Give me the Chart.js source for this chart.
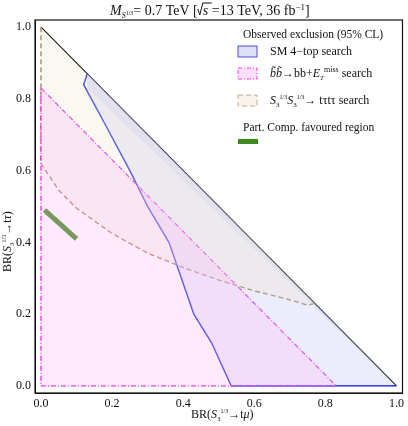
<!DOCTYPE html>
<html>
<head>
<meta charset="utf-8">
<script src="https://cdn.jsdelivr.net/npm/chart.js@4"></script>
<style>
  body { margin: 0; background: #fff; }
  #wrap { width: 408px; height: 426px; }
</style>
</head>
<body>
<div id="wrap"><canvas id="c"></canvas></div>
<script>
// boundaries (x = BR(S3 -> t mu), y = BR(S3 -> t tau))
const diagonal = [[0, 1], [1, 0]];
const fourTopEdge = [[0.13, 0.87], [0.12, 0.84], [0.18, 0.73], [0.25, 0.6], [0.3, 0.5],
  [0.36, 0.4], [0.43, 0.2], [0.48, 0.12], [0.535, 0], [1, 0]];
const fourTopTop = [[0.13, 0.87], [1, 0]];
const bbEdge = [[0, 0.83], [0.83, 0]];
const bbAxes = [[0.83, 0], [0, 0], [0, 0.83]];
const tautauEdge = [[0, 1], [0, 0.62], [0.05, 0.545], [0.1, 0.495], [0.2, 0.425], [0.3, 0.37],
  [0.4, 0.33], [0.5, 0.295], [0.6, 0.265], [0.7, 0.24], [0.75, 0.225], [0.77, 0.23]];
const tautauTop = [[0, 1], [0.77, 0.23]];
const favoured = [[0.01, 0.49], [0.1, 0.41]];
const tickVals = [0, 0.2, 0.4, 0.6, 0.8, 1.0];

const pts = a => a.map(p => ({ x: p[0], y: p[1] }));
const SERIF = '"Liberation Serif", "DejaVu Serif", serif';
const INK = '#111';

function rich(ctx, x, y, parts) {
  // parts: [text, size, dy, italic]
  parts.forEach(p => {
    ctx.font = (p[3] ? 'italic ' : '') + p[1] + 'px ' + SERIF;
    ctx.fillText(p[0], x, y + (p[2] || 0));
    x += ctx.measureText(p[0]).width;
  });
  return x;
}

const decor = {
  id: 'decor',
  afterDraw(chart) {
    const ctx = chart.ctx, a = chart.chartArea;
    ctx.save();
    ctx.fillStyle = INK;
    ctx.textBaseline = 'alphabetic';
    // title
    let x = rich(ctx, 110, 15, [['M', 14, 0, true], ['S', 8, 3, true], ['1/3', 6, 0], ['= 0.7 TeV [', 14, 0]]);
    ctx.strokeStyle = INK; ctx.lineWidth = 1;
    ctx.beginPath(); ctx.moveTo(x, 9); ctx.lineTo(x + 2, 15); ctx.lineTo(x + 5, 3); ctx.lineTo(x + 14, 3); ctx.stroke();
    rich(ctx, x + 5, 15, [['s', 14, 0, true], [' =13 TeV, 36 fb', 14, 0], ['−1', 9, -5], [']', 14, 0]]);
    // x title
    rich(ctx, 191, 418, [['BR(', 12], ['S', 12, 0, true], ['3', 7, 3], ['1/3', 6, -5], ['→t', 12], ['μ', 12, 0, true], [')', 12]]);
    // y title
    ctx.save(); ctx.translate(11, 272); ctx.rotate(-Math.PI / 2);
    rich(ctx, 0, 0, [['BR(', 12], ['S', 12, 0, true], ['3', 7, 3], ['1/3', 6, -5], ['→t', 12], ['τ', 12, 0, true], [')', 12]]);
    ctx.restore();
    // legend
    rich(ctx, 243, 38, [['Observed exclusion (95% CL)', 11.5]]);
    const box = (y, fill, stroke, dash) => {
      ctx.fillStyle = fill; ctx.fillRect(238, y, 19, 11);
      ctx.strokeStyle = stroke; ctx.setLineDash(dash); ctx.lineWidth = 1;
      ctx.strokeRect(238, y, 19, 11); ctx.setLineDash([]); ctx.fillStyle = INK;
    };
    box(46, 'rgba(190,190,240,0.5)', '#4a50e8', []);
    rich(ctx, 270, 55, [['SM 4−top search', 12]]);
    box(68, 'rgba(255,190,250,0.5)', '#f040f0', [4, 2, 1, 2]);
    rich(ctx, 270, 77, [['b̃b̃', 12, 0, true], ['→bb+', 12], ['E', 12, 0, true], ['T', 7, 3, true], ['miss', 8, -5], [' search', 12]]);
    box(95, 'rgba(245,232,215,0.5)', '#c8a888', [5, 3]);
    rich(ctx, 270, 104, [['S', 12, 0, true], ['3', 7, 3], ['1/3', 6, -5], ['S', 12, 0, true], ['3', 7, 3], ['1/3', 6, -5], ['→ tτtτ search', 12]]);
    rich(ctx, 243, 131, [['Part. Comp. favoured region', 11.5]]);
    ctx.fillStyle = '#3e8a1e'; ctx.fillRect(238, 139, 20, 5);
    // frame
    ctx.strokeStyle = INK; ctx.lineWidth = 1.2;
    ctx.strokeRect(a.left, a.top, a.right - a.left, a.bottom - a.top);
    ctx.restore();
  }
};

const line = (data, color, extra) => Object.assign({
  data: pts(data), showLine: true, borderColor: color, borderWidth: 1.4,
  pointRadius: 0, fill: false, tension: 0
}, extra);
const area = (data, bg, target) => line(data, 'rgba(0,0,0,0)', { borderWidth: 0, fill: target, backgroundColor: bg });

new Chart(document.getElementById('c'), {
  type: 'scatter',
  data: {
    datasets: [
      // fills first
      area(bbEdge, 'rgba(255,185,250,0.3)', 'origin'),
      area(tautauTop, 'rgba(0,0,0,0)', false),
      area(tautauEdge, 'rgba(240,225,200,0.25)', 1),
      area(fourTopTop, 'rgba(0,0,0,0)', false),
      area(fourTopEdge, 'rgba(190,195,245,0.3)', 3),
      // outlines on top
      line(bbEdge, '#f020f0', { borderDash: [5, 2, 1, 2] }),
      line(bbAxes, '#f020f0', { borderDash: [5, 2, 1, 2] }),
      line(tautauEdge, '#a87a50', { borderDash: [5, 3] }),
      line(fourTopEdge, '#1020f0', { borderWidth: 1.5 }),
      line(diagonal, '#111', { borderWidth: 1.2 }),
      line(diagonal, '#d0b080', { borderDash: [2, 3], borderWidth: 1 }),
      line(favoured, '#3e8a1e', { borderWidth: 5 })
    ]
  },
  options: {
    responsive: true, maintainAspectRatio: false, animation: false,
    layout: { padding: { top: 20, right: 3, left: 0, bottom: 0 } },
    plugins: { legend: { display: false }, tooltip: { enabled: false } },
    scales: {
      x: {
        type: 'linear', min: -0.017, max: 1.017,
        afterBuildTicks: s => { s.ticks = tickVals.map(v => ({ value: v })); },
        afterFit: s => { s.height = 33; },
        grid: { display: false, tickLength: 0 },
        border: { color: INK },
        ticks: { color: INK, font: { family: SERIF, size: 12 }, padding: 4,
          callback: v => v.toFixed(1) }
      },
      y: {
        type: 'linear', min: -0.02, max: 1.02,
        afterBuildTicks: s => { s.ticks = tickVals.map(v => ({ value: v })); },
        afterFit: s => { s.width = 35; },
        grid: { display: false, tickLength: 0 },
        border: { color: INK },
        ticks: { color: INK, font: { family: SERIF, size: 12 }, padding: 4,
          callback: v => v.toFixed(1) }
      }
    }
  },
  plugins: [decor]
});
</script>
</body>
</html>
